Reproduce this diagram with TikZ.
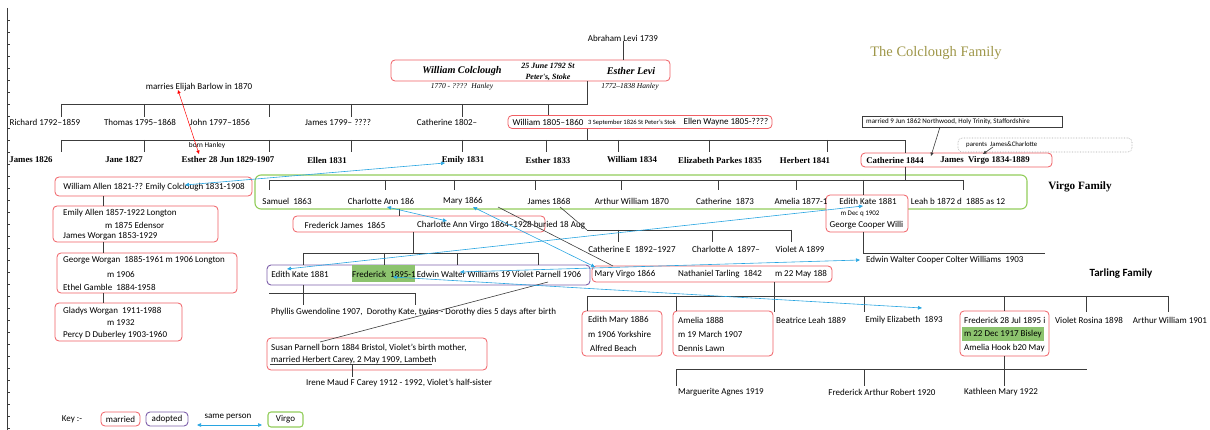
\documentclass[tikz,border=0pt]{standalone}
\usepackage{fontspec}
\setmainfont{Carlito}
\newfontfamily\cambria{Liberation Serif}
\usetikzlibrary{arrows.meta}

\definecolor{marred}{RGB}{240,95,100}
\definecolor{adoptpurple}{RGB}{125,95,170}
\definecolor{virgogreen}{RGB}{146,205,90}
\definecolor{sameblue}{RGB}{40,165,225}
\definecolor{titleolive}{RGB}{158,150,72}
\definecolor{hlgreen}{RGB}{140,195,110}
\definecolor{treegray}{RGB}{60,60,60}

\begin{document}
\begin{tikzpicture}[
  x=1pt, y=-1pt,
  every node/.style={inner sep=0pt, font=\fontsize{9}{11}\selectfont},
  treeline/.style={draw=treegray, line width=0.8pt},
  thinline/.style={draw=treegray, line width=0.6pt},
  marbox/.style={draw=marred, line width=0.8pt, rounded corners=4pt, fill=white},
  adoptbox/.style={draw=adoptpurple, line width=0.9pt, rounded corners=4pt},
  virgobox/.style={draw=virgogreen, line width=1.1pt, rounded corners=6pt},
  hilite/.style={fill=hlgreen},
  genname/.style={font=\cambria\bfseries\fontsize{8.8}{10}\selectfont},
  parentname/.style={font=\cambria\bfseries\itshape\fontsize{10.2}{12}\selectfont},
  lifespan/.style={font=\cambria\itshape\fontsize{7.5}{9}\selectfont},
  smallnote/.style={font=\fontsize{7}{8.5}\selectfont},
  sameperson/.style={draw=sameblue, line width=0.6pt, {Triangle[length=4pt,width=3.5pt]}-{Triangle[length=4pt,width=3.5pt]}},
  redlink/.style={draw=red, line width=0.5pt, {Triangle[length=3.5pt,width=3pt]}-{Triangle[length=3.5pt,width=3pt]}},
  notelink/.style={thinline, -{Triangle[length=3.5pt,width=3pt]}},
]
\useasboundingbox (0,0) rectangle (1210,430);

% page edge
\draw[treegray, line width=0.6pt] (7,8) -- (7,430);
\foreach \y in {20,32,...,428}
  \draw[treegray, line width=0.5pt] (7,\y) -- (10,\y);

% family groups
\node[virgobox, minimum width=772pt, minimum height=34pt] (virgoGrp) at (641,192) {};
\node[adoptbox, minimum width=323pt, minimum height=20pt] (adoptGrp) at (428.5,275) {};

% marriages
\node[marbox, minimum width=279pt, minimum height=21pt] (wcBox) at (530.5,70.5) {};
\node[marbox, minimum width=264pt, minimum height=13pt] (wmBox) at (640,122) {};
\node[marbox, minimum width=191pt, minimum height=14pt] (cjBox) at (956.5,160) {};
\node[marbox, minimum width=197pt, minimum height=19pt] (waBox) at (153.5,186.5) {};
\node[marbox, minimum width=165pt, minimum height=36pt] (eaBox) at (135.5,224) {};
\node[marbox, minimum width=180pt, minimum height=40pt] (gwBox) at (147,273) {};
\node[marbox, minimum width=127pt, minimum height=38pt] (glBox) at (118.5,322) {};
\node[marbox, minimum width=82pt, minimum height=37pt] (ekBox) at (867,213.5) {};
\node[marbox, minimum width=252pt, minimum height=16pt] (fjBox) at (419,224) {};
\node[marbox, minimum width=240pt, minimum height=16pt] (mvBox) at (712,274) {};
\node[marbox, minimum width=220pt, minimum height=32pt] (spBox) at (377,354) {};
\node[marbox, minimum width=80pt, minimum height=45pt] (emBox) at (622,333.5) {};
\node[marbox, minimum width=100pt, minimum height=45pt] (amBox) at (723,333.5) {};
\node[marbox, minimum width=89pt, minimum height=45pt] (ftBox) at (1004.5,333.5) {};
\node[draw=treegray, line width=0.8pt, minimum width=200pt, minimum height=11pt] (nwBox) at (962,121.5) {};
\node[draw=gray!70, densely dotted, rounded corners=4pt, line width=0.6pt, minimum width=174pt, minimum height=14pt] (parBox) at (1045,145) {};
\node[hilite, minimum width=63pt, minimum height=17pt] (frMark) at (383.5,273.5) {};
\node[hilite, minimum width=82pt, minimum height=14pt] (ftMark) at (1003,334) {};

% top generation
\node (abraham) at (623,38) {Abraham Levi 1739};
\node[parentname] (wcName) at (462,71) {William Colclough};
\node[font=\cambria\bfseries\itshape\fontsize{8}{10.5}\selectfont, align=center] (wcDate) at (548,72) {25 June 1792 St\\Peter's, Stoke};
\node[parentname] (elName) at (631,71) {Esther Levi};
\node[lifespan] (wcLife) at (462,87) {1770 - ????~ Hanley};
\node[lifespan] (elLife) at (630,87) {1772–1838 Hanley};
\node[font=\cambria\fontsize{14.5}{17}\selectfont, text=titleolive] (title) at (936,53) {The Colclough Family};

% children of William and Esther
\node (richard) at (45,122) {Richard 1792–1859};
\node (thomas) at (140,122) {Thomas 1795–1868};
\node (john) at (220,122) {John 1797–1856};
\node (james1) at (338,122) {James 1799– ????};
\node (cath1) at (447,122) {Catherine 1802–};
\node (william1) at (548,122) {William 1805–1860};
\node[font=\fontsize{6.5}{8}\selectfont] (wmDate) at (632,122.5) {3 September 1826 St Peter's Stok};
\node (ellen1) at (726,122) {Ellen Wayne 1805-????};
\node (elijah) at (199,87) {marries Elijah Barlow in 1870};
\node[font=\fontsize{7.3}{9}\selectfont] (hanley) at (207,146) {born Hanley};
\node[smallnote, anchor=west] (nwText) at (866,121.5) {married 9 Jun 1862 Northwood, Holy Trinity, Staffordshire};
\node[font=\fontsize{6.8}{8}\selectfont, anchor=west] (parText) at (966,145) {parents~ James\&Charlotte};

% children of William and Ellen
\node[genname] (james2) at (31,160) {James 1826};
\node[genname] (jane) at (124,160) {Jane 1827};
\node[genname] (esther2) at (228,160) {Esther 28 Jun 1829-1907};
\node[genname] (ellen2) at (327,160) {Ellen 1831};
\node[genname] (emily) at (463,160) {Emily 1831};
\node[genname] (esther3) at (548,160) {Esther 1833};
\node[genname] (william2) at (632,160) {William 1834};
\node[genname] (elizabeth) at (720,160) {Elizabeth Parkes 1835};
\node[genname] (herbert) at (805,160) {Herbert 1841};
\node[genname] (catherine2) at (895,160) {Catherine 1844};
\node[genname] (jvirgo) at (985,160) {James~ Virgo 1834-1889};

% Allen and Worgan line
\node (waText) at (154,187.5) {William Allen 1821-?? Emily Colclough 1831-1908};
\node[anchor=west] (eaA) at (63,213) {Emily Allen 1857-1922 Longton};
\node[anchor=west] (eaB) at (105,225) {m 1875 Edensor};
\node[anchor=west] (eaC) at (63,236) {James Worgan 1853-1929};
\node[anchor=west] (gwA) at (63,260) {George Worgan~ 1885-1961 m 1906 Longton};
\node[anchor=west] (gwB) at (107,274) {m 1906};
\node[anchor=west] (gwC) at (63,287) {Ethel Gamble~ 1884-1958};
\node[anchor=west] (glA) at (63,311) {Gladys Worgan~ 1911-1988};
\node[anchor=west] (glB) at (107,323) {m 1932};
\node[anchor=west] (glC) at (63,335) {Percy D Duberley 1903-1960};

% Virgo children
\node (samuel) at (287,201) {Samuel~ 1863};
\node (charlotte) at (381,201) {Charlotte Ann 186};
\node (mary) at (463,201) {Mary 1866};
\node (james3) at (549,201) {James 1868};
\node (arthur1) at (632,201) {Arthur William 1870};
\node (catherine3) at (725,201) {Catherine~ 1873};
\node (amelia1) at (801,201) {Amelia 1877-1};
\node (ekName) at (868,201) {Edith Kate 1881};
\node[smallnote] (ekWed) at (860,214) {m Dec q 1902};
\node (ekGeorge) at (866.5,225) {George Cooper Willi};
\node (leah) at (958,201) {Leah b 1872 d~ 1885 as 12};
\node[font=\cambria\bfseries\fontsize{11.2}{13}\selectfont] (virgoTitle) at (1080,187) {Virgo Family};

% Charlotte Ann and Frederick James
\node (fjName) at (345,225) {Frederick James~ 1865};
\node (fjCharlotte) at (501,225) {Charlotte Ann Virgo 1864–1928 buried 18 Aug};
\node (cathE) at (632,249) {Catherine E~ 1892–1927};
\node (charlA) at (726,249) {Charlotte A~ 1897–};
\node (violetA) at (800,249) {Violet A 1899};

% adopted
\node (ek2) at (300,274) {Edith Kate 1881};
\node (fr) at (384,274) {Frederick~ 1895-1};
\node (ew) at (499,274) {Edwin Walter Williams 19 Violet Parnell 1906};
\node[anchor=west] (ewc) at (866,260) {Edwin Walter Cooper Colter Williams~ 1903};
\node[anchor=west] (phyllis) at (271,312) {Phyllis Gwendoline 1907,~ Dorothy Kate, twins - Dorothy dies 5 days after birth};
\node[anchor=west] (spA) at (271,348) {Susan Parnell born 1884 Bristol, Violet's birth mother,};
\node[anchor=west] (spB) at (271,360) {married Herbert Carey, 2 May 1909, Lambeth};
\node (irene) at (399,383) {Irene Maud F Carey 1912 - 1992, Violet's half-sister};

% Tarling family
\node[font=\bfseries\fontsize{11}{13}\selectfont] (tarlingTitle) at (1121,274) {Tarling Family};
\node (mv) at (625,274) {Mary Virgo 1866};
\node (nt) at (720,274) {Nathaniel Tarling~ 1842};
\node (mm) at (801,274) {m 22 May 188};
\node[anchor=west] (emA) at (588,320) {Edith Mary 1886};
\node[anchor=west] (emB) at (588,334) {m 1906 Yorkshire};
\node[anchor=west] (emC) at (590,348) {Alfred Beach};
\node[anchor=west] (amA) at (678,320) {Amelia 1888};
\node[anchor=west] (amB) at (678,334) {m 19 March 1907};
\node[anchor=west] (amC) at (678,348) {Dennis Lawn};
\node (beatrice) at (811,320) {Beatrice Leah 1889};
\node (emilyE) at (904,320) {Emily Elizabeth~ 1893};
\node[anchor=west] (ftA) at (964,320) {Frederick 28 Jul 1895 i};
\node[anchor=west] (ftB) at (964,334) {m 22 Dec 1917 Bisley};
\node[anchor=west] (ftC) at (964,348) {Amelia Hook b20 May};
\node (violetR) at (1089,320) {Violet Rosina 1898};
\node (arthur2) at (1170,320) {Arthur William 1901};
\node[anchor=west] (marguerite) at (678,392) {Marguerite Agnes 1919};
\node (fArthur) at (882,392) {Frederick Arthur Robert 1920};
\node (kathleen) at (1001,392) {Kathleen Mary 1922};

% William and Esther
\draw[treeline] (abraham.south) -- (abraham.south |- wcBox.north);
\coordinate (g1Mid) at (587,104);
\coordinate (g1Left) at (61,104);
\draw[treeline] (wcBox.south -| g1Mid) -- (g1Mid) -- (g1Left);
\foreach \x in {61,144,269,351,462}
  \draw[treeline] (\x,104) -- ++(0,13);
\coordinate (wmDrop) at (548,104);
\draw[treeline] (wmDrop) -- (wmDrop |- wmBox.north);

% William and Ellen
\coordinate (g2Mid) at (587,140);
\coordinate (g2Left) at (61,140);
\coordinate (g2Right) at (905,140);
\draw[treeline] (wmBox.south -| g2Mid) -- (g2Mid);
\draw[treeline] (g2Left) -- (g2Right) -- (g2Right |- cjBox.north);
\foreach \x in {61,144,269,351,462,546,618,709,827}
  \draw[treeline] (\x,140) -- ++(0,12);

% Catherine and James Virgo
\coordinate (g3Mid) at (905,180);
\draw[treeline] (cjBox.south -| g3Mid) -- (g3Mid);
\draw[treeline] (269,180) -- (963,180);
\foreach \x in {269,385,454,535,621,718,796,963}
  \draw[treeline] (\x,180) -- ++(0,10);
\coordinate (ekDrop) at (863,180);
\coordinate (ewBar) at (863,253);
\draw[treeline] (ekDrop) -- (ekDrop |- ekBox.north);
\draw[treeline] (ekBox.south -| ewBar) -- (ewBar) -- (1045,253);

% Charlotte Ann and Frederick James
\coordinate (caLink) at (399,209);
\coordinate (fjKids) at (413,253);
\draw[treeline] (caLink) -- (caLink |- fjBox.north);
\draw[treeline] (fjBox.south -| fjKids) -- (fjKids);
\draw[treeline] (303,253) -- (538,253);
\foreach \x in {303,384,457,538}
  \draw[treeline] (\x,253) -- (\x,265);

% Edith Kate and Frederick
\coordinate (phTop) at (303,285);
\draw[treeline] (phTop) -- ++(0,20);
\draw[treeline] (269,293) -- (415,293) -- ++(0,12);

% Violet's mother
\coordinate (vpFrom) at (548,282);
\coordinate (vpTo) at (320,342);
\draw[thinline] (vpFrom) -- (vpTo);
\draw[treeline] (270,364) -- (432,364);
\draw[treeline] (352,364) -- (352,377);

% James 1868 and Mary 1866
\coordinate (ceFrom) at (560,207);
\coordinate (ceBar) at (587,230);
\draw[thinline] (ceFrom) -- (ceBar);
\draw[treeline] (ceBar) -- (792,230);
\foreach \x in {618,712,791}
  \draw[treeline] (\x,230) -- ++(0,12);
\coordinate (mvFrom) at (498,207);
\coordinate (mvTo) at (613,266);
\draw[thinline] (mvFrom) -- (mvTo);

% Mary Virgo and Nathaniel Tarling
\coordinate (tbMid) at (774,296);
\draw[treeline] (mvBox.south -| tbMid) -- (tbMid);
\draw[treeline] (587,296) -- (1168,296);
\foreach \x in {587,676,1004}
  \draw[treeline] (\x,296) -- (\x,311);
\foreach \x in {774,864,1086,1168}
  \draw[treeline] (\x,296) -- (\x,312);

% Frederick and Amelia Hook
\draw[treeline] (ftBox.south) -- ++(0,30);
\draw[treeline] (676,369) -- (1087,369);
\foreach \x in {676,864}
  \draw[treeline] (\x,369) -- (\x,386);

% Allen / Worgan
\coordinate (awLine) at (103,0);
\draw[treeline] (waBox.south -| awLine) -- (eaBox.north -| awLine);
\draw[treeline] (eaBox.south -| awLine) -- (gwBox.north -| awLine);
\draw[treeline] (gwBox.south -| awLine) -- (glBox.north -| awLine);

% notes
\coordinate (elijahTip) at (178,90);
\coordinate (estherTip) at (199,154);
\draw[redlink] (elijahTip) -- (estherTip);
\coordinate (nwFrom) at (940,127);
\coordinate (nwTo) at (931,156);
\draw[notelink] (nwFrom) -- (nwTo);
\coordinate (parFrom) at (993,147);
\coordinate (parTo) at (983,154);
\draw[notelink] (parFrom) -- (parTo);

% same person
\coordinate (sEmilyA) at (185,185);
\coordinate (sEmilyB) at (445,163);
\draw[sameperson] (sEmilyA) -- (sEmilyB);
\coordinate (sCharlA) at (387,207);
\coordinate (sCharlB) at (447,221);
\draw[sameperson] (sCharlA) -- (sCharlB);
\coordinate (sMaryA) at (473,207);
\coordinate (sMaryB) at (595,267);
\draw[sameperson] (sMaryA) -- (sMaryB);
\coordinate (sEdithA) at (287,269);
\coordinate (sEdithB) at (863,206);
\draw[sameperson] (sEdithA) -- (sEdithB);
\coordinate (sFredA) at (393,277);
\coordinate (sFredB) at (922,308);
\draw[sameperson] (sFredA) -- (sFredB);
\coordinate (sEdwinA) at (460,272);
\coordinate (sEdwinB) at (860,260);
\draw[sameperson] (sEdwinA) -- (sEdwinB);

% key
\node (keyLbl) at (72,419) {Key :-};
\node[marbox, minimum width=39pt, minimum height=14pt] (keyMar) at (120.5,419) {married};
\node[adoptbox, minimum width=42pt, minimum height=14pt] (keyAdo) at (167,419) {adopted};
\node (keySame) at (228,417.5) {same person};
\coordinate (keySameL) at (197,425);
\coordinate (keySameR) at (262,425);
\draw[sameperson] (keySameL) -- (keySameR);
\node[virgobox, rounded corners=3pt, minimum width=35pt, minimum height=15pt] (keyVir) at (285.5,419.5) {Virgo};
\end{tikzpicture}
\end{document}
